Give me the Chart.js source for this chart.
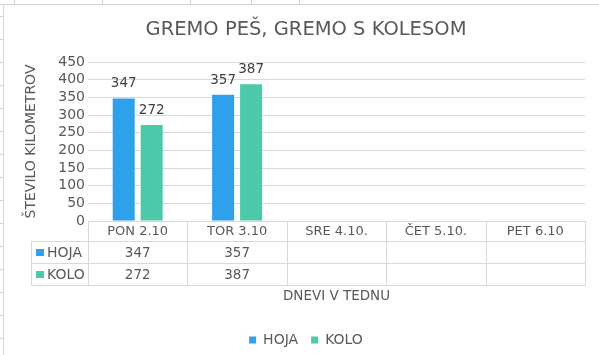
<!DOCTYPE html>
<html>
<head>
<meta charset="utf-8">
<script src="https://cdn.jsdelivr.net/npm/chart.js@4/dist/chart.umd.min.js"></script>
<style>
html,body{margin:0;padding:0;background:#fff;width:599px;height:355px;overflow:hidden;}
#wrap{position:relative;width:599px;height:355px;}
.l{position:absolute;background:#d4d4d4;}
#ticks{position:absolute;left:0;top:4px;width:3px;height:351px;background:repeating-linear-gradient(to bottom,transparent 0,transparent 12px,#d4d4d4 12px,#d4d4d4 13px,transparent 13px,transparent 23px);}
canvas{position:absolute;left:0;top:0;}
</style>
</head>
<body>
<div id="wrap">
  <div class="l" style="left:0;top:4px;width:599px;height:1px"></div>
  <div class="l" style="left:3px;top:4px;width:1px;height:351px"></div>
  <div class="l" style="left:14px;top:0;width:1px;height:4px"></div>
  <div class="l" style="left:102px;top:0;width:1px;height:4px"></div>
  <div class="l" style="left:190px;top:0;width:1px;height:4px"></div>
  <div class="l" style="left:251px;top:0;width:1px;height:4px"></div>
  <div class="l" style="left:299px;top:0;width:1px;height:4px"></div>
  <div id="ticks"></div>
  <canvas id="c" width="599" height="355"></canvas>
</div>
<script>
// ---- data ----
const categories = ['PON 2.10', 'TOR 3.10', 'SRE 4.10.', 'ČET 5.10.', 'PET 6.10'];
const seriesNames = ['HOJA', 'KOLO'];
const hojaValues = [347, 357, null, null, null];
const koloValues = [272, 387, null, null, null];
const yMin = 0;
const yMax = 450;
const yStep = 50;
const chartTitle = 'GREMO PEŠ, GREMO S KOLESOM';
const yTitle = 'ŠTEVILO KILOMETROV';
const xTitle = 'DNEVI V TEDNU';

// ---- style ----
const F = "'DejaVu Sans', sans-serif";
const TXT = '#595959';
const GRID = '#d9d9d9';
const COLORS = ['#2FA0EA', '#4CC9AA'];
const seriesValues = [hojaValues, koloValues];

const valueLabels = {
  id: 'valueLabels',
  afterDatasetsDraw(chart) {
    const ctx = chart.ctx;
    ctx.save();
    ctx.font = '13.5px ' + F;
    ctx.fillStyle = '#404040';
    ctx.textAlign = 'center';
    ctx.textBaseline = 'alphabetic';
    chart.data.datasets.forEach((ds, i) => {
      const meta = chart.getDatasetMeta(i);
      meta.data.forEach((el, j) => {
        const v = ds.data[j];
        if (v == null) return;
        ctx.fillText(String(v), el.x, el.y - 11);
      });
    });
    ctx.restore();
  }
};

const dataTable = {
  id: 'dataTable',
  afterDraw(chart) {
    const ctx = chart.ctx;
    const xs = chart.scales.x, ys = chart.scales.y;
    const ca = chart.chartArea;
    const top = Math.round(ys.getPixelForValue(yMin));
    const r1 = top + 20, r2 = r1 + 22, r3 = r2 + 22;
    const labelLeft = 31;
    const n = categories.length;
    const w = (ca.right - ca.left) / n;
    ctx.save();
    ctx.strokeStyle = GRID;
    ctx.lineWidth = 1;
    ctx.beginPath();
    [r1, r2, r3].forEach(yy => { ctx.moveTo(labelLeft, yy + 0.5); ctx.lineTo(ca.right + 1, yy + 0.5); });
    ctx.moveTo(labelLeft + 0.5, r1); ctx.lineTo(labelLeft + 0.5, r3 + 1);
    for (let i = 0; i <= n; i++) {
      const xx = Math.round(xs.getPixelForValue(0) - w / 2 + i * w) + 0.5;
      ctx.moveTo(xx, top); ctx.lineTo(xx, r3 + 1);
    }
    ctx.stroke();
    ctx.fillStyle = TXT;
    ctx.textAlign = 'center';
    ctx.textBaseline = 'middle';
    ctx.font = '13px ' + F;
    categories.forEach((c, i) => {
      ctx.fillText(c, xs.getPixelForValue(i), (top + r1) / 2 + 1);
    });
    ctx.font = '13.5px ' + F;
    const rowsY = [(r1 + r2) / 2 + 1, (r2 + r3) / 2 + 1];
    seriesValues.forEach((vals, s) => {
      vals.forEach((v, i) => {
        if (v == null) return;
        ctx.fillText(String(v), xs.getPixelForValue(i), rowsY[s]);
      });
    });
    ctx.textAlign = 'left';
    ctx.font = '14px ' + F;
    seriesNames.forEach((name, s) => {
      ctx.fillStyle = COLORS[s];
      ctx.fillRect(36, Math.round(rowsY[s] - 4), 8, 7);
      ctx.fillStyle = TXT;
      ctx.fillText(name, 47, rowsY[s]);
    });
    ctx.restore();
  }
};

new Chart(document.getElementById('c'), {
  type: 'bar',
  data: {
    labels: categories,
    datasets: seriesNames.map((name, s) => ({
      label: name,
      data: seriesValues[s],
      backgroundColor: COLORS[s],
      borderWidth: 0,
      categoryPercentage: 0.563,
      barPercentage: 0.786
    }))
  },
  options: {
    responsive: false,
    animation: false,
    devicePixelRatio: 1,
    layout: { padding: { left: 13, right: 0, top: 0, bottom: -2 } },
    plugins: {
      title: {
        display: true, text: chartTitle, color: TXT,
        font: { family: F, size: 19.5, lineHeight: '24px', weight: 'normal' },
        padding: { top: 18, bottom: 20 }
      },
      legend: {
        position: 'bottom',
        labels: { boxWidth: 7, boxHeight: 7, padding: 13, color: TXT, font: { family: F, size: 14 } }
      },
      tooltip: { enabled: false }
    },
    scales: {
      x: {
        grid: { display: false }, border: { display: false }, ticks: { display: false },
        title: { display: true, text: xTitle, color: TXT, font: { family: F, size: 13.5 }, padding: { top: 0, bottom: 15 } },
        afterFit(s) { s.height = 99; }
      },
      y: {
        min: yMin, max: yMax,
        ticks: { stepSize: yStep, autoSkip: false, color: TXT, font: { family: F, size: 14 }, padding: 3 },
        grid: { color: GRID, drawTicks: false },
        border: { display: false },
        title: { display: true, text: yTitle, color: TXT, font: { family: F, size: 14 }, padding: { top: 9.6, bottom: 0 } },
        afterFit(s) { s.width = 75; }
      },
      y2: {
        position: 'right', display: true,
        grid: { display: false }, border: { display: false }, ticks: { display: false },
        afterFit(s) { s.width = 14; }
      }
    }
  },
  plugins: [valueLabels, dataTable]
});
</script>
</body>
</html>
